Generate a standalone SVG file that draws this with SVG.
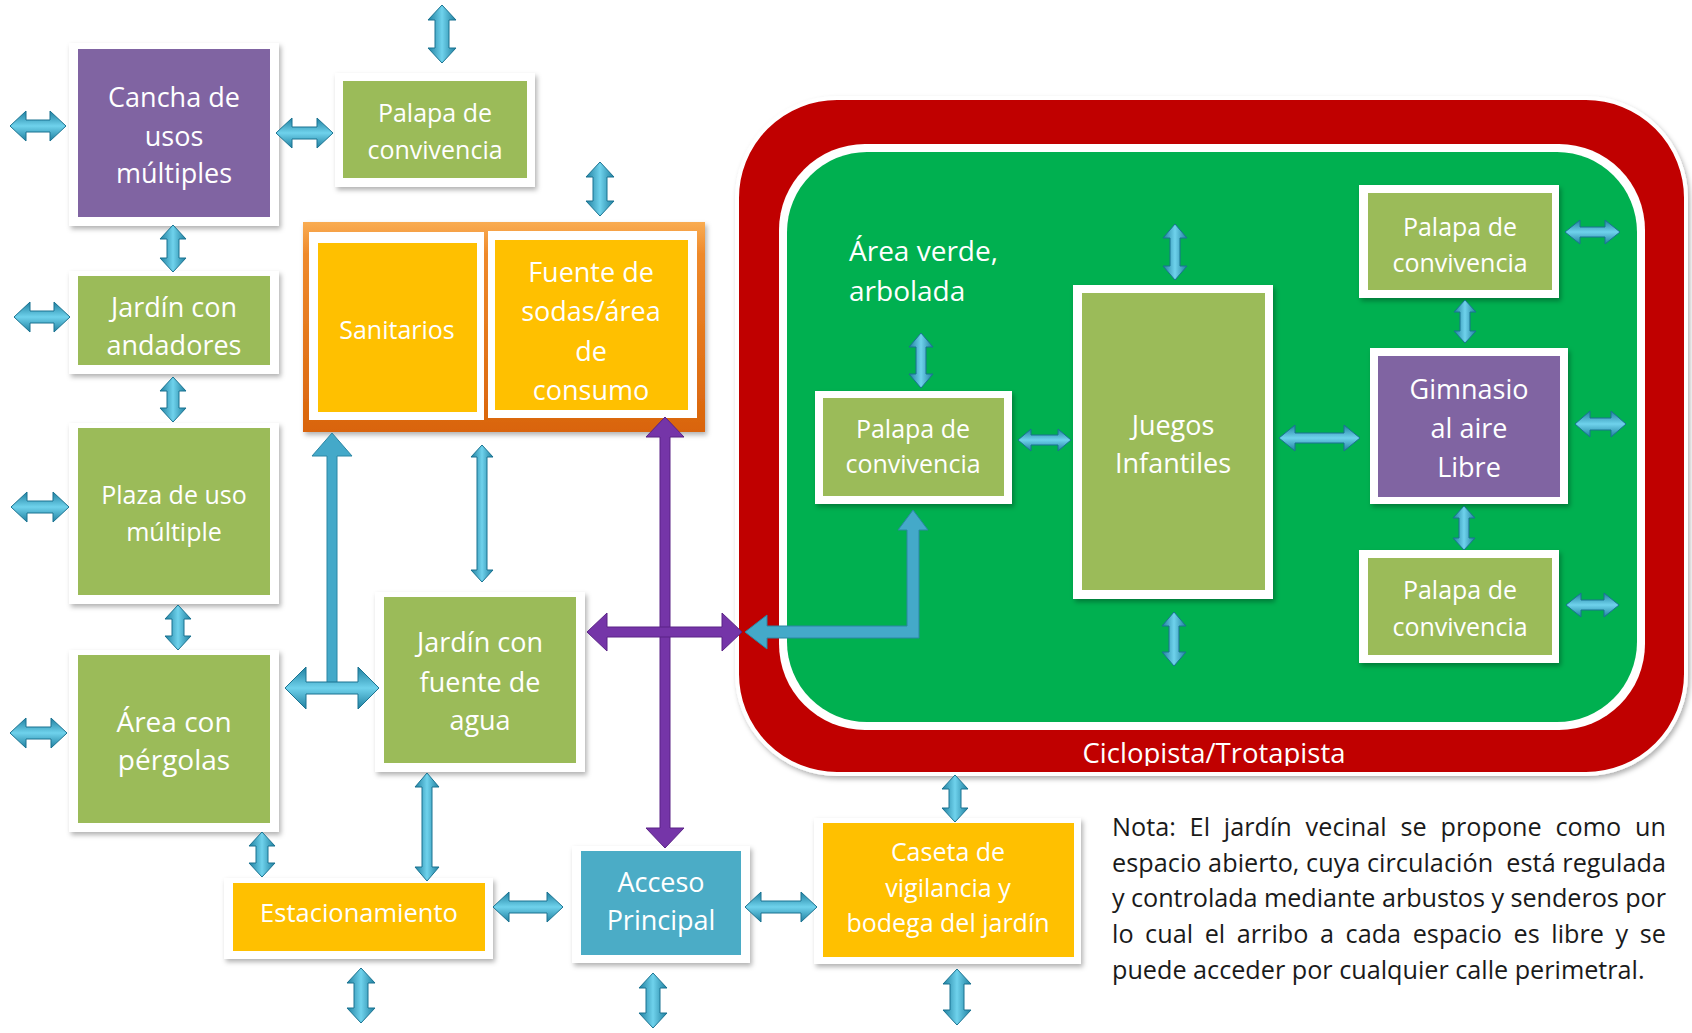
<svg xmlns="http://www.w3.org/2000/svg" width="1692" height="1033" viewBox="0 0 1692 1033">
<defs>
<filter id="sh" x="-15%" y="-15%" width="135%" height="140%"><feDropShadow dx="2" dy="3" stdDeviation="2.5" flood-color="#000" flood-opacity="0.3"/></filter>
<linearGradient id="gh" x1="0" y1="0" x2="0" y2="1"><stop offset="0" stop-color="#1f7f9f"/><stop offset="0.5" stop-color="#6fd2ec"/><stop offset="1" stop-color="#1f7f9f"/></linearGradient>
<linearGradient id="gv" x1="0" y1="0" x2="1" y2="0"><stop offset="0" stop-color="#1f7f9f"/><stop offset="0.5" stop-color="#6fd2ec"/><stop offset="1" stop-color="#1f7f9f"/></linearGradient>
<linearGradient id="og" x1="0" y1="0" x2="0" y2="1"><stop offset="0" stop-color="#f9ac52"/><stop offset="0.15" stop-color="#ef8a2c"/><stop offset="1" stop-color="#d9640c"/></linearGradient>
<clipPath id="cc"><rect x="737" y="700" width="950" height="66"/></clipPath>
<style>
.frame{fill:#fff;filter:url(#sh)}
.pur{fill:#8064a2}
.grn{fill:#9bbb59}
.yel{fill:#ffc000}
.blu{fill:#4bacc6}
.lbl{font-family:"Open Sans","Noto Sans",sans-serif;fill:#fff;text-anchor:middle}
.ah{fill:url(#gh);stroke:#1a7391;stroke-width:1}
.av{fill:url(#gv);stroke:#1a7391;stroke-width:1}
.ap{fill:#7535a8;stroke:#5a2386;stroke-width:1}
.al{fill:#44a9c9;stroke:#2a86a4;stroke-width:1}
.note{font-family:"Open Sans","Noto Sans",sans-serif;fill:#1a1a1a;font-size:25.2px}
</style>
</defs>
<rect width="1692" height="1033" fill="#fff"/>

<g id="track">
<rect x="737" y="98" width="949" height="676" rx="100" ry="100" fill="#c00000" stroke="#fff" stroke-width="4" filter="url(#sh)"/>
<rect x="779" y="144" width="866" height="586" rx="86" ry="86" fill="#fff"/>
<rect x="787" y="152" width="850" height="570" rx="80" ry="80" fill="#00b050"/>
<text class="lbl" x="1214" y="763" font-size="27.5" clip-path="url(#cc)">Ciclopista/Trotapista</text>
<text x="849" y="261" font-family="Open Sans, Noto Sans, sans-serif" font-size="28" fill="#fff"><tspan x="849" y="261">Área verde,</tspan><tspan x="849" y="301">arbolada</tspan></text>
</g>

<g id="n-cancha">
<rect class="frame" x="69" y="43" width="210" height="183"/>
<rect class="pur" x="78" y="49" width="192" height="168"/>
<text class="lbl" font-size="27"><tspan x="174" y="107">Cancha de</tspan><tspan x="174" y="146">usos</tspan><tspan x="174" y="183">múltiples</tspan></text>
</g>

<g id="n-palapa-top">
<rect class="frame" x="335" y="73" width="200" height="114"/>
<rect class="grn" x="343" y="81" width="184" height="97"/>
<text class="lbl" font-size="25"><tspan x="435" y="122">Palapa de</tspan><tspan x="435" y="159">convivencia</tspan></text>
</g>

<g id="n-jardin-andadores">
<rect class="frame" x="69" y="271" width="210" height="103"/>
<rect class="grn" x="78" y="276" width="192" height="89"/>
<text class="lbl" font-size="27"><tspan x="174" y="317">Jardín con</tspan><tspan x="174" y="355">andadores</tspan></text>
</g>

<g id="n-plaza">
<rect class="frame" x="69" y="423" width="210" height="181"/>
<rect class="grn" x="78" y="428" width="192" height="167"/>
<text class="lbl" font-size="25"><tspan x="174" y="504">Plaza de uso</tspan><tspan x="174" y="541">múltiple</tspan></text>
</g>

<g id="n-pergolas">
<rect class="frame" x="69" y="650" width="210" height="182"/>
<rect class="grn" x="78" y="655" width="192" height="168"/>
<text class="lbl" font-size="28"><tspan x="174" y="732">Área con</tspan><tspan x="174" y="770">pérgolas</tspan></text>
</g>

<g id="n-servicios">
<rect x="303" y="222" width="402" height="210" fill="url(#og)" filter="url(#sh)"/>
<rect x="309" y="232" width="175" height="188" fill="#fff"/>
<rect class="yel" x="318" y="243" width="159" height="169"/>
<text class="lbl" font-size="25" x="397" y="339">Sanitarios</text>
<rect x="488" y="231" width="209" height="187" fill="#fff"/>
<rect class="yel" x="495" y="240" width="193" height="170"/>
<text class="lbl" font-size="27"><tspan x="591" y="282">Fuente de</tspan><tspan x="591" y="321">sodas/área</tspan><tspan x="591" y="361">de</tspan><tspan x="591" y="400">consumo</tspan></text>
</g>

<g id="n-jardin-fuente">
<rect class="frame" x="375" y="592" width="210" height="180"/>
<rect class="grn" x="384" y="597" width="192" height="166"/>
<text class="lbl" font-size="27"><tspan x="480" y="652">Jardín con</tspan><tspan x="480" y="692">fuente de</tspan><tspan x="480" y="730">agua</tspan></text>
</g>

<g id="n-estacionamiento">
<rect class="frame" x="224" y="878" width="269" height="81"/>
<rect class="yel" x="233" y="883" width="252" height="68"/>
<text class="lbl" font-size="25.5" x="359" y="922">Estacionamiento</text>
</g>

<g id="n-acceso">
<rect class="frame" x="572" y="846" width="178" height="117"/>
<rect class="blu" x="581" y="851" width="160" height="104"/>
<text class="lbl" font-size="27"><tspan x="661" y="892">Acceso</tspan><tspan x="661" y="930">Principal</tspan></text>
</g>

<g id="n-caseta">
<rect class="frame" x="814" y="818" width="267" height="146"/>
<rect class="yel" x="823" y="823" width="251" height="134"/>
<text class="lbl" font-size="25"><tspan x="948" y="861">Caseta de</tspan><tspan x="948" y="897">vigilancia y</tspan><tspan x="948" y="932">bodega del jardín</tspan></text>
</g>

<g id="n-palapa-izq">
<rect class="frame" x="815" y="391" width="197" height="113"/>
<rect class="grn" x="823" y="398" width="181" height="98"/>
<text class="lbl" font-size="25"><tspan x="913" y="438">Palapa de</tspan><tspan x="913" y="473">convivencia</tspan></text>
</g>

<g id="n-juegos">
<rect class="frame" x="1073" y="285" width="200" height="314"/>
<rect class="grn" x="1082" y="293" width="183" height="297"/>
<text class="lbl" font-size="27"><tspan x="1173" y="435">Juegos</tspan><tspan x="1173" y="473">Infantiles</tspan></text>
</g>

<g id="n-palapa-sup">
<rect class="frame" x="1359" y="185" width="200" height="113"/>
<rect class="grn" x="1368" y="193" width="184" height="97"/>
<text class="lbl" font-size="25"><tspan x="1460" y="236">Palapa de</tspan><tspan x="1460" y="272">convivencia</tspan></text>
</g>

<g id="n-gimnasio">
<rect class="frame" x="1370" y="348" width="198" height="156"/>
<rect class="pur" x="1378" y="356" width="182" height="141"/>
<text class="lbl" font-size="27"><tspan x="1469" y="399">Gimnasio</tspan><tspan x="1469" y="438">al aire</tspan><tspan x="1469" y="477">Libre</tspan></text>
</g>

<g id="n-palapa-inf">
<rect class="frame" x="1359" y="550" width="200" height="113"/>
<rect class="grn" x="1368" y="558" width="184" height="97"/>
<text class="lbl" font-size="25"><tspan x="1460" y="599">Palapa de</tspan><tspan x="1460" y="636">convivencia</tspan></text>
</g>

<g id="connectors">
<path class="ah" d="M10 126 L26 111 L26 120 L50 120 L50 111 L66 126 L50 141 L50 132 L26 132 L26 141 Z"/>
<path class="ah" d="M276 133 L292 118 L292 127 L317 127 L317 118 L333 133 L317 148 L317 139 L292 139 L292 148 Z"/>
<path class="ah" d="M14 317 L30 302 L30 311 L54 311 L54 302 L70 317 L54 332 L54 323 L30 323 L30 332 Z"/>
<path class="ah" d="M11 507 L27 492 L27 501 L53 501 L53 492 L69 507 L53 522 L53 513 L27 513 L27 522 Z"/>
<path class="ah" d="M10 733 L26 718 L26 727 L51 727 L51 718 L67 733 L51 748 L51 739 L26 739 L26 748 Z"/>
<path class="ah" d="M493 907 L509 892 L509 901 L547 901 L547 892 L563 907 L547 922 L547 913 L509 913 L509 922 Z"/>
<path class="ah" d="M745 907 L761 892 L761 901 L801 901 L801 892 L817 907 L801 922 L801 913 L761 913 L761 922 Z"/>
<path class="ah" d="M1018 440 L1031 429 L1031 435 L1058 435 L1058 429 L1071 440 L1058 451 L1058 445 L1031 445 L1031 451 Z"/>
<path class="ah" d="M1279 438 L1295 425 L1295 433 L1344 433 L1344 425 L1360 438 L1344 451 L1344 443 L1295 443 L1295 451 Z"/>
<path class="ah" d="M1565 232 L1580 220 L1580 227 L1605 227 L1605 220 L1620 232 L1605 244 L1605 237 L1580 237 L1580 244 Z"/>
<path class="ah" d="M1575 424 L1590 411 L1590 418 L1611 418 L1611 411 L1626 424 L1611 437 L1611 430 L1590 430 L1590 437 Z"/>
<path class="ah" d="M1566 605 L1581 593 L1581 600 L1604 600 L1604 593 L1619 605 L1604 617 L1604 610 L1581 610 L1581 617 Z"/>

<path class="av" d="M442 5 L456 20 L449 20 L449 48 L456 48 L442 63 L428 48 L435 48 L435 20 L428 20 Z"/>
<path class="av" d="M600 162 L614 177 L607 177 L607 201 L614 201 L600 216 L586 201 L593 201 L593 177 L586 177 Z"/>
<path class="av" d="M173 225 L186 239 L179 239 L179 258 L186 258 L173 272 L160 258 L167 258 L167 239 L160 239 Z"/>
<path class="av" d="M173 377 L186 391 L179 391 L179 408 L186 408 L173 422 L160 408 L167 408 L167 391 L160 391 Z"/>
<path class="av" d="M178 605 L191 619 L184 619 L184 636 L191 636 L178 650 L165 636 L172 636 L172 619 L165 619 Z"/>
<path class="av" d="M262 832 L275 846 L268 846 L268 863 L275 863 L262 877 L249 863 L256 863 L256 846 L249 846 Z"/>
<path class="av" d="M361 968 L375 983 L368 983 L368 1008 L375 1008 L361 1023 L347 1008 L354 1008 L354 983 L347 983 Z"/>
<path class="av" d="M653 973 L667 988 L660 988 L660 1013 L667 1013 L653 1028 L639 1013 L646 1013 L646 988 L639 988 Z"/>
<path class="av" d="M957 969 L971 984 L964 984 L964 1010 L971 1010 L957 1025 L943 1010 L950 1010 L950 984 L943 984 Z"/>
<path class="av" d="M955 775 L968 789 L961 789 L961 808 L968 808 L955 822 L942 808 L949 808 L949 789 L942 789 Z"/>
<path class="av" d="M921 333 L933 347 L926 347 L926 374 L933 374 L921 388 L909 374 L916 374 L916 347 L909 347 Z"/>
<path class="av" d="M1175 224 L1187 238 L1180 238 L1180 266 L1187 266 L1175 280 L1163 266 L1170 266 L1170 238 L1163 238 Z"/>
<path class="av" d="M1174 612 L1186 626 L1179 626 L1179 652 L1186 652 L1174 666 L1162 652 L1169 652 L1169 626 L1162 626 Z"/>
<path class="av" d="M1465 300 L1476 312 L1470 312 L1470 331 L1476 331 L1465 343 L1454 331 L1460 331 L1460 312 L1454 312 Z"/>
<path class="av" d="M1464 506 L1475 518 L1469 518 L1469 538 L1475 538 L1464 550 L1453 538 L1459 538 L1459 518 L1453 518 Z"/>

<path class="av" d="M482 445 L493 457 L487 457 L487 570 L493 570 L482 582 L471 570 L477 570 L477 457 L471 457 Z"/>
<path class="av" d="M427 773 L439 787 L432 787 L432 867 L439 867 L427 881 L415 867 L422 867 L422 787 L415 787 Z"/>
<path class="al" d="M332 433 L352 456 L337 456 L337 683 L327 683 L327 456 L312 456 Z"/>
<path class="ah" d="M285 688 L306 667 L306 682 L358 682 L358 667 L379 688 L358 709 L358 694 L306 694 L306 709 Z"/>
<path class="ap" d="M665 417 L684 437 L670 437 L670 828 L684 828 L665 848 L646 828 L660 828 L660 437 L646 437 Z"/>
<path class="ap" d="M587 632 L607 613 L607 627 L722 627 L722 613 L742 632 L722 651 L722 637 L607 637 L607 651 Z"/>
<path class="al" d="M913 510 L928 530 L919 530 L919 638 L767 638 L767 649 L745 632 L767 615 L767 626 L907 626 L907 530 L898 530 Z"/>
</g>

<g id="nota">
<text class="note" x="1112" y="836" textLength="554" lengthAdjust="spacing" style="word-spacing:7.2px">Nota: El jardín vecinal se propone como un</text>
<text class="note" x="1112" y="872" textLength="554" lengthAdjust="spacing" xml:space="preserve">espacio abierto, cuya circulación  está regulada</text>
<text class="note" x="1112" y="907" textLength="554" lengthAdjust="spacing">y controlada mediante arbustos y senderos por</text>
<text class="note" x="1112" y="943" textLength="554" lengthAdjust="spacing" style="word-spacing:5px">lo cual el arribo a cada espacio es libre y se</text>
<text class="note" x="1112" y="979">puede acceder por cualquier calle perimetral.</text>
</g>
</svg>
